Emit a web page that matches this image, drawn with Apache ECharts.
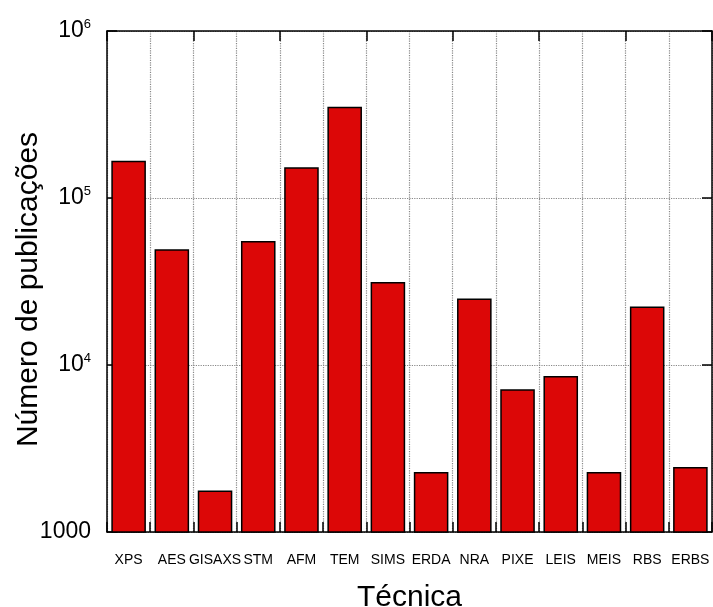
<!DOCTYPE html>
<html>
<head>
<meta charset="utf-8">
<script src="https://cdn.jsdelivr.net/npm/echarts@6/dist/echarts.min.js"></script>
<style>html,body{margin:0;padding:0;background:#fff;}#c{width:713px;height:607px;}</style>
</head>
<body>
<div id="c"></div>
<script>
const categories = ['XPS','AES','GISAXS','STM','AFM','TEM','SIMS','ERDA','NRA','PIXE','LEIS','MEIS','RBS','ERBS'];
const publications = [167000, 49300, 1770, 55300, 152700, 352000, 31400, 2290, 25000, 7150, 8600, 2290, 22400, 2450];
const yTickValues = [1000, 10000, 100000, 1000000];
const yTickLabels = ['1000', '10^4', '10^5', '10^6'];

const font = 'Liberation Sans, Arial, sans-serif';
const chart = echarts.init(document.getElementById('c'), null, {renderer: 'canvas'});

function yLabel(v) {
  const i = yTickValues.findIndex(t => Math.abs(Math.log10(t) - Math.log10(v)) < 1e-6);
  if (i < 0) return '';
  const s = yTickLabels[i];
  if (s.indexOf('^') < 0) return '{b|' + s + '}';
  const p = s.split('^');
  return '{b|' + p[0] + '}{s|' + p[1] + '}';
}

const option = {
  animation: false,
  backgroundColor: '#fff',
  grid: {left: 107, right: 1, top: 31, bottom: 75, containLabel: false, outerBoundsMode: 'none'},
  xAxis: [
    {
      type: 'category', data: categories, position: 'bottom',
      axisLine: {show: true, lineStyle: {color: '#000', width: 1.5}},
      axisTick: {show: true, inside: true, length: 10, lineStyle: {color: '#000', width: 1.5}},
      axisLabel: {interval: 0, fontSize: 14, color: '#000', fontFamily: font, margin: 21},
      splitLine: {show: true, lineStyle: {type: 'dotted', color: '#888', width: 1.2}},
      name: 'Técnica', nameLocation: 'middle', nameGap: 51, nameMoveOverlap: false,
      nameTextStyle: {fontSize: 30, color: '#000', fontFamily: font}
    },
    {
      type: 'category', data: categories, position: 'top',
      axisLine: {show: true, lineStyle: {color: '#000', width: 1.5}},
      axisTick: {show: true, inside: true, length: 10, lineStyle: {color: '#000', width: 1.5}},
      axisLabel: {show: false},
      splitLine: {show: false}
    }
  ],
  yAxis: [
    {
      type: 'log', logBase: 10, min: 1000, max: 1000000, position: 'left',
      axisLine: {show: true, lineStyle: {color: '#000', width: 1.5}},
      axisTick: {show: true, inside: true, length: 10, lineStyle: {color: '#000', width: 1.5}},
      minorTick: {show: false},
      splitLine: {show: true, lineStyle: {type: 'dotted', color: '#888', width: 1.2}},
      axisLabel: {
        margin: 16, color: '#000', fontFamily: font,
        formatter: yLabel,
        rich: {
          b: {fontSize: 23, fontFamily: font, color: '#000', lineHeight: 26},
          s: {fontSize: 13, fontFamily: font, color: '#000', verticalAlign: 'top', padding: [0, 0, 10, 0], lineHeight: 14}
        }
      },
      name: 'Número de publicações', nameLocation: 'middle', nameGap: 63, nameRotate: 90,
      nameMoveOverlap: false,
      nameTextStyle: {fontSize: 30, color: '#000', fontFamily: font, padding: [0, 16, 0, 0]}
    },
    {
      type: 'log', logBase: 10, min: 1000, max: 1000000, position: 'right',
      axisLine: {show: true, lineStyle: {color: '#000', width: 1.5}},
      axisTick: {show: true, inside: true, length: 10, lineStyle: {color: '#000', width: 1.5}},
      minorTick: {show: false},
      splitLine: {show: false},
      axisLabel: {show: false}
    }
  ],
  series: [{
    type: 'bar', data: publications, xAxisIndex: 0, yAxisIndex: 0,
    barCategoryGap: '20%',
    itemStyle: {color: '#dc0707', borderColor: '#000', borderWidth: 1.5}
  }]
};
chart.setOption(option);
</script>
</body>
</html>
